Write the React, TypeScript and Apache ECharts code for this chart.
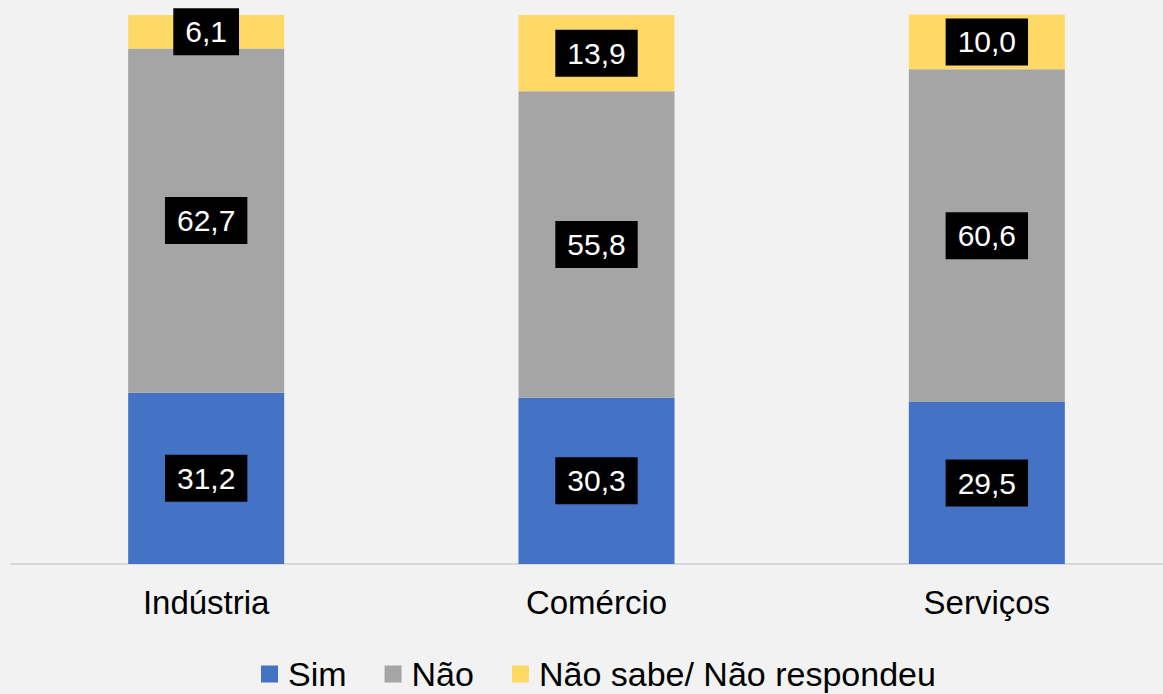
import React, { useEffect, useRef } from "react";
import * as echarts from "echarts";

const categories = ["Indústria", "Comércio", "Serviços"];
const seriesNames = ["Sim", "Não", "Não sabe/ Não respondeu"];
const simValues = [31.2, 30.3, 29.5];
const naoValues = [62.7, 55.8, 60.6];
const nsnrValues = [6.1, 13.9, 10.0];
const seriesColors = ["#4472C4", "#A5A5A5", "#FFD966"];

const FONT = "'Liberation Sans', Arial, sans-serif";

export default function App() {
  const ref = useRef<HTMLDivElement>(null);

  useEffect(() => {
    if (!ref.current) return;
    const chart = echarts.init(ref.current, undefined, { renderer: "svg" });
    const valuesList = [simValues, naoValues, nsnrValues];
    const series = seriesNames.map((name, i) => ({
      name,
      type: "bar" as const,
      stack: "total",
      data: valuesList[i],
      barWidth: 156,
      clip: false,
      itemStyle: { color: seriesColors[i] },
      label: {
        show: true,
        position: "inside" as const,
        formatter: (p: any) => Number(p.value).toFixed(1).replace(".", ","),
        color: "#FFFFFF",
        fontFamily: FONT,
        fontSize: 30,
        lineHeight: 31,
        backgroundColor: "#000000",
        padding: [8, 12, 8, 12],
      },
      z: 2 + i,
    }));

    chart.setOption({
      animation: false,
      backgroundColor: "#F2F2F2",
      textStyle: { fontFamily: FONT },
      grid: { left: 11, right: 0, top: 15, bottom: 130, containLabel: false },
      legend: {
        data: seriesNames,
        left: 261,
        top: 657,
        padding: 0,
        icon: "rect",
        itemWidth: 17,
        itemHeight: 17,
        itemGap: 38,
        textStyle: {
          fontFamily: FONT,
          fontSize: 34,
          lineHeight: 34,
          color: "#000000",
          padding: [0, 0, 0, 5],
        },
      },
      xAxis: {
        type: "category",
        data: categories,
        axisLine: { show: true, lineStyle: { color: "#D9D9D9", width: 2 } },
        axisTick: { show: false },
        axisLabel: {
          fontFamily: FONT,
          fontSize: 33,
          color: "#000000",
          margin: 22,
        },
      },
      yAxis: {
        type: "value",
        min: 0,
        max: 100,
        show: false,
        splitLine: { show: false },
      },
      series,
    });
    return () => chart.dispose();
  }, []);

  return (
    <div
      style={{
        position: "fixed",
        left: 0,
        top: 0,
        width: 1163,
        height: 694,
        overflow: "hidden",
        background: "#F2F2F2",
      }}
    >
      <div ref={ref} style={{ width: 1182, height: 694 }} />
    </div>
  );
}
